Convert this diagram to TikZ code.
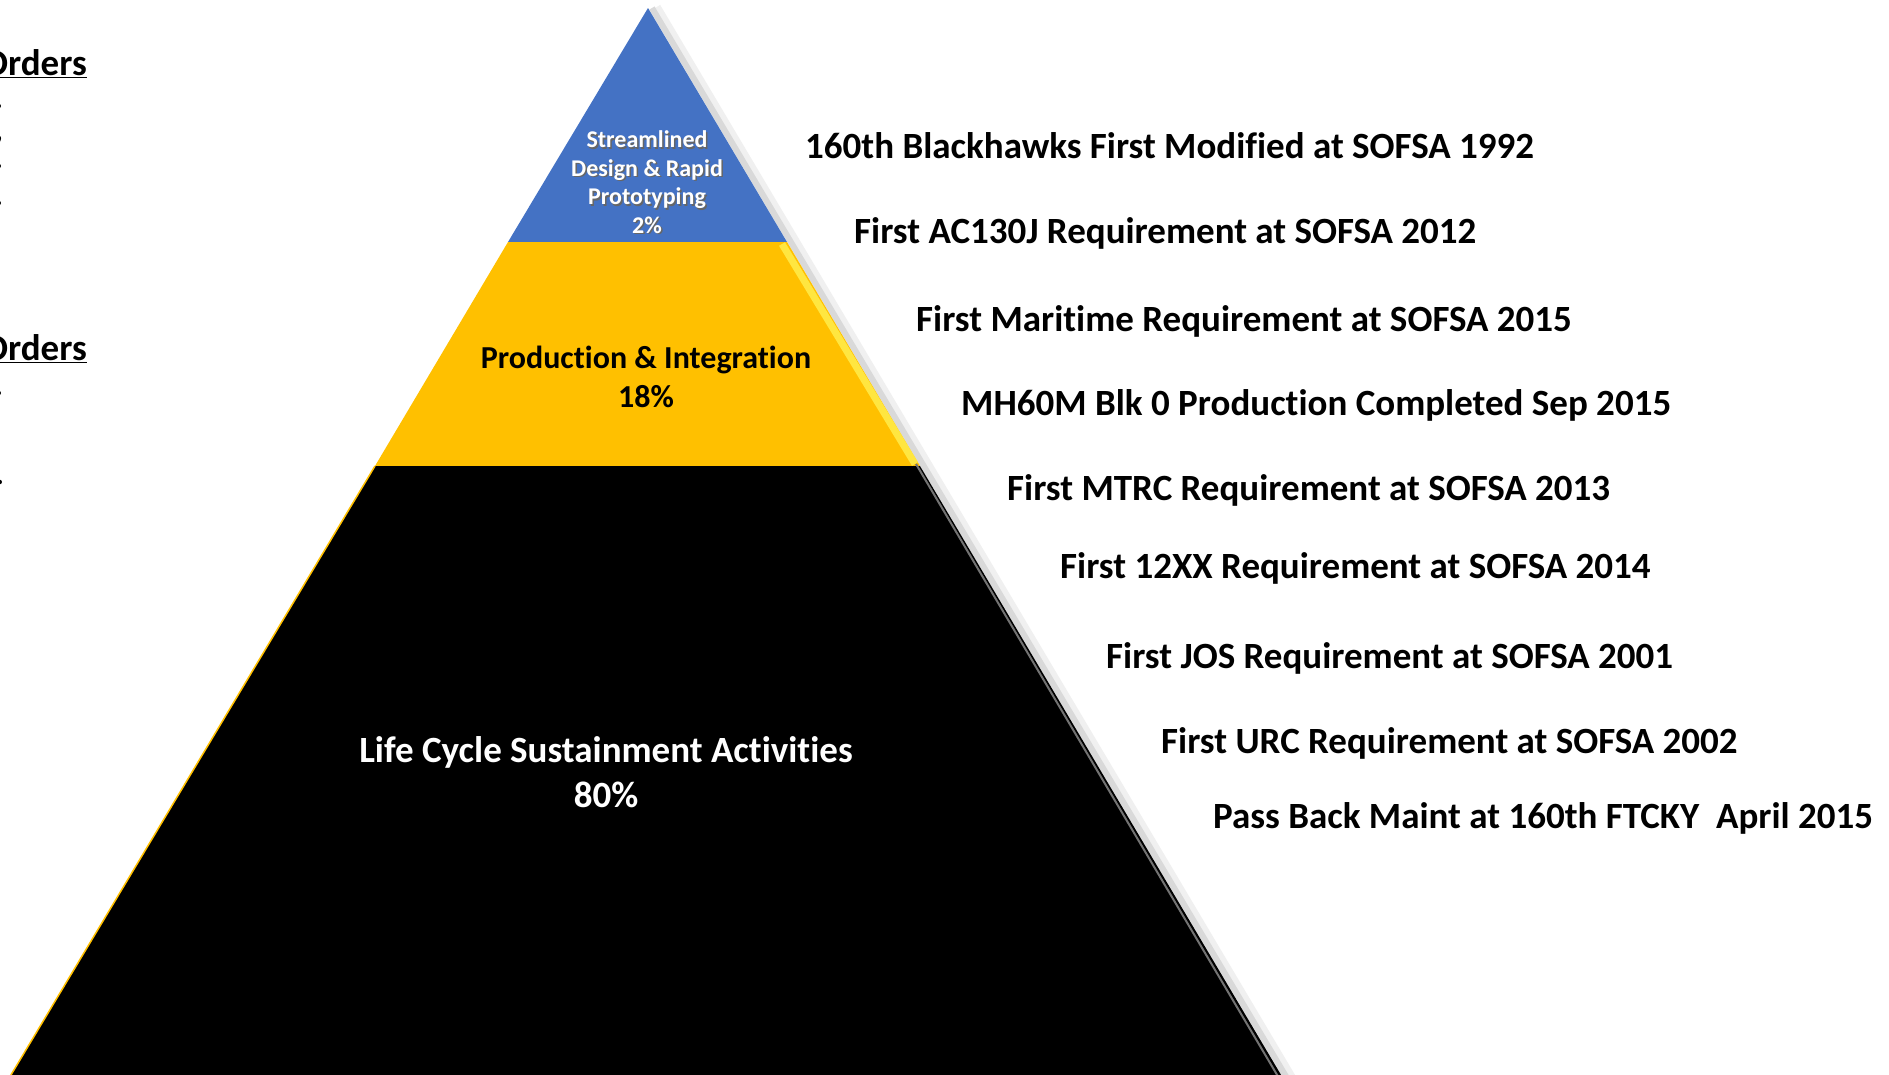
\documentclass[tikz,border=0pt]{standalone}
\usepackage{fontspec}
\setmainfont{Carlito}[Ligatures={NoCommon}]
\definecolor{pblue}{HTML}{4472C4}
\definecolor{pyel}{HTML}{FFC000}
\definecolor{pyellight}{HTML}{FFE640}
\begin{document}
\begin{tikzpicture}[x=1pt,y=-1pt,
  lbl/.style={font=\fontsize{37}{44}\selectfont\bfseries, anchor=west, inner sep=0pt, text=black},
  ordr/.style={font=\fontsize{37}{44}\selectfont\bfseries, anchor=east, inner sep=0pt},
  dotm/.style={font=\fontsize{30}{36}\selectfont\bfseries, anchor=east, inner sep=0pt},
  shd/.style={text=black!60, align=center, inner sep=0pt},
  wtxt/.style={text=white, align=center, inner sep=0pt}]
\useasboundingbox (0,0) rectangle (1889,1074);
\fill[white] (0,0) rectangle (1889,1074);
% pyramid coordinates
\coordinate (apex) at (648,8);
\coordinate (b1l) at (508,242);
\coordinate (b1r) at (787,242);
\coordinate (b2l) at (375,466);
\coordinate (b2r) at (920,466);
\coordinate (bl) at (2,1090);
\coordinate (br) at (1290,1090);
% soft shadow on right
\draw[black!6, line width=12pt] ([xshift=7pt]apex) -- ([xshift=7pt]br);
\draw[black!15, line width=6pt] ([xshift=4pt]apex) -- ([xshift=4pt]br);
% tiers
\fill[pblue] (apex) -- (b1r) -- (b1l) -- cycle;
\fill[pyel] (b1l) -- (b1r) -- (b2r) -- (b2l) -- cycle;
\fill[black] (b2l) -- (b2r) -- (br) -- (bl) -- cycle;
% highlights
\draw[pyellight, line width=7pt] ([xshift=-5pt,yshift=-2pt]b1r) -- ([xshift=-5pt,yshift=2pt]b2r);
\draw[black!55, line width=2pt] ([xshift=-4pt,yshift=2pt]b2r) -- ([xshift=-4pt]br);
\draw[pyel, line width=1.5pt] (b2l) -- (bl);
% tier texts
\node[shd, font=\fontsize{24}{28.5}\selectfont\bfseries] at (648.5,183.5) {Streamlined\\Design \& Rapid\\Prototyping\\2\%};
\node[wtxt, font=\fontsize{24}{28.5}\selectfont\bfseries] (t1) at (647,182) {Streamlined\\Design \& Rapid\\Prototyping\\2\%};
\node[inner sep=0pt, align=center, font=\fontsize{32}{39}\selectfont\bfseries] (t2) at (646,377) {Production \& Integration\\18\%};
\node[wtxt, font=\fontsize{37}{45}\selectfont\bfseries] (t3) at (606,772) {Life Cycle Sustainment Activities\\80\%};
% right labels
\node[lbl] (l1) at (805,146) {160th Blackhawks First Modified at SOFSA 1992};
\node[lbl] (l2) at (854,233) {First AC130J Requirement at SOFSA 2012};
\node[lbl] (l3) at (916,321) {First Maritime Requirement at SOFSA 2015};
\node[lbl] (l4) at (961,405) {MH60M Blk 0 Production Completed Sep 2015};
\node[lbl] (l5) at (1007,490) {First MTRC Requirement at SOFSA 2013};
\node[lbl] (l6) at (1060,568) {First 12XX Requirement at SOFSA 2014};
\node[lbl] (l7) at (1106,658) {First JOS Requirement at SOFSA 2001};
\node[lbl] (l8) at (1161,743) {First URC Requirement at SOFSA 2002};
\node[lbl] (l9) at (1213,818) {Pass Back Maint at 160th FTCKY\ \ April 2015};
% left cut-off texts
\node[ordr] (o1) at (87,64) {\underline{Orders}};
\node[ordr] (o2) at (87,349) {\underline{Orders}};
\node[dotm] (d1) at (3,106) {.};
\node[dotm] (d2) at (3,140) {,};
\node[dotm] (d3) at (3,166) {.};
\node[dotm] (d4) at (3,203) {.};
\node[dotm] (d5) at (3,393) {.};
\node[dotm] (d6) at (4,482) {.};
\end{tikzpicture}
\end{document}
